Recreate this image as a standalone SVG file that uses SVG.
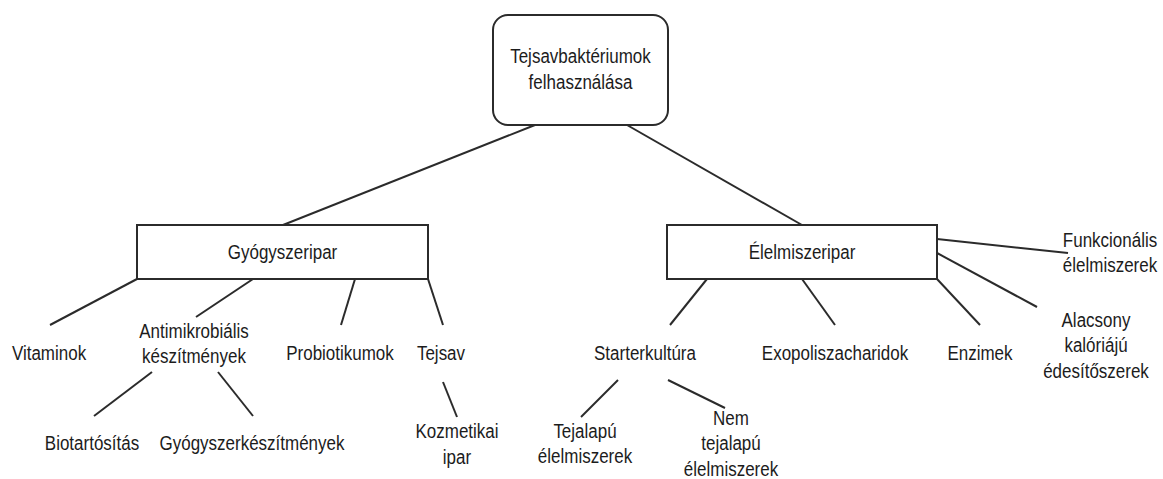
<svg xmlns="http://www.w3.org/2000/svg" width="1163" height="479" viewBox="0 0 1163 479">
<style>
.box{fill:#fff;stroke:#2b2b2b;stroke-width:2}
.ln{stroke:#2b2b2b;stroke-width:2;fill:none}
.t{font-family:"Liberation Sans",Arial,sans-serif;font-size:17px;fill:#1c1c1c;text-anchor:middle}
</style>
<rect width="1163" height="479" fill="#fff"/>
<g id="connectors">
<line class="ln" x1="535" y1="125" x2="283" y2="225"/>
<line class="ln" x1="627" y1="125" x2="802" y2="225"/>
<line class="ln" x1="137" y1="279" x2="50" y2="325"/>
<line class="ln" x1="253" y1="279" x2="196" y2="317"/>
<line class="ln" x1="355" y1="279" x2="341" y2="325"/>
<line class="ln" x1="428" y1="279" x2="443" y2="325"/>
<line class="ln" x1="152" y1="372" x2="94" y2="416"/>
<line class="ln" x1="218" y1="372" x2="253" y2="416"/>
<line class="ln" x1="443" y1="382" x2="457" y2="417"/>
<line class="ln" x1="707" y1="279" x2="670" y2="325"/>
<line class="ln" x1="802" y1="279" x2="835" y2="325"/>
<line class="ln" x1="937" y1="279" x2="980" y2="325"/>
<line class="ln" x1="937" y1="253" x2="1037" y2="307"/>
<line class="ln" x1="937" y1="239" x2="1068" y2="253"/>
<line class="ln" x1="618" y1="380" x2="581" y2="417"/>
<line class="ln" x1="668" y1="380" x2="725" y2="408"/>
</g>
<g id="root">
<rect class="box" x="493" y="15" width="175" height="110" rx="15"/>
<text class="t" transform="translate(580.5,63) scale(1,1.15)">Tejsavbaktériumok<tspan x="0" dy="23">felhasználása</tspan></text>
</g>
<g id="gyogyszeripar">
<rect class="box" x="137" y="225" width="291" height="54"/>
<text class="t" transform="translate(282.5,259) scale(1,1.15)">Gyógyszeripar</text>
</g>
<g id="elelmiszeripar">
<rect class="box" x="667" y="225" width="270" height="54"/>
<text class="t" transform="translate(802,259) scale(1,1.15)">Élelmiszeripar</text>
</g>
<g id="vitaminok"><text class="t" transform="translate(49,360) scale(1,1.15)">Vitaminok</text></g>
<g id="antimikrobialis"><text class="t" transform="translate(194,338) scale(1,1.15)">Antimikrobiális<tspan x="0" dy="22">készítmények</tspan></text></g>
<g id="probiotikumok"><text class="t" transform="translate(340,360) scale(1,1.15)">Probiotikumok</text></g>
<g id="tejsav"><text class="t" transform="translate(441,360) scale(1,1.15)">Tejsav</text></g>
<g id="biotartositas"><text class="t" transform="translate(92,450) scale(1,1.15)">Biotartósítás</text></g>
<g id="gyogyszerkeszitmenyek"><text class="t" transform="translate(252,450) scale(1,1.15)">Gyógyszerkészítmények</text></g>
<g id="kozmetikai"><text class="t" transform="translate(457,438) scale(1,1.15)">Kozmetikai<tspan x="0" dy="22.5">ipar</tspan></text></g>
<g id="starterkultura"><text class="t" transform="translate(645,360) scale(1,1.15)">Starterkultúra</text></g>
<g id="exopoliszacharidok"><text class="t" transform="translate(835,360) scale(1,1.15)">Exopoliszacharidok</text></g>
<g id="enzimek"><text class="t" transform="translate(980,360) scale(1,1.15)">Enzimek</text></g>
<g id="alacsony"><text class="t" transform="translate(1096,327) scale(1,1.15)">Alacsony<tspan x="0" dy="22">kalóriájú</tspan><tspan x="0" dy="22">édesítőszerek</tspan></text></g>
<g id="funkcionalis"><text class="t" transform="translate(1110,247) scale(1,1.15)">Funkcionális<tspan x="0" dy="22">élelmiszerek</tspan></text></g>
<g id="tejalapu"><text class="t" transform="translate(585,438) scale(1,1.15)">Tejalapú<tspan x="0" dy="22">élelmiszerek</tspan></text></g>
<g id="nemtejalapu"><text class="t" transform="translate(731,425) scale(1,1.15)">Nem<tspan x="0" dy="21.5">tejalapú</tspan><tspan x="0" dy="22.5">élelmiszerek</tspan></text></g>
</svg>
